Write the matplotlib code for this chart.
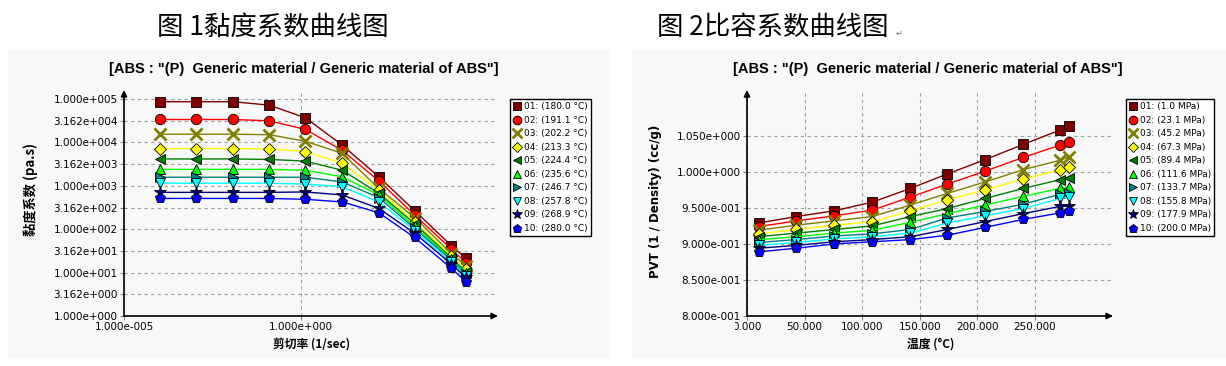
import numpy as np
import matplotlib
matplotlib.use('Agg')
import matplotlib.pyplot as plt
from matplotlib.lines import Line2D
from matplotlib.patches import Rectangle
from matplotlib.ticker import FixedLocator, NullLocator
from matplotlib.transforms import Bbox

# ---- data ----
shear_rate = [1.05e-4, 1.12e-3, 1.23e-2, 1.29e-1, 1.35, 14.8, 162, 1660, 18200, 46800]
visc_temps = ['180.0', '191.1', '202.2', '213.3', '224.4', '235.6', '246.7', '257.8', '268.9', '280.0']
viscosity = [
    [87100, 87100, 87100, 72400, 37200, 8710, 1620, 269, 41.7, 21.4],
    [33900, 33900, 33900, 31600, 20000, 6610, 1290, 214, 34.7, 17.0],
    [15500, 15500, 15500, 15100, 10700, 5620, 871, 186, 27.5, 14.5],
    [7240, 7240, 7240, 7080, 6170, 3310, 794, 148, 24.5, 12.0],
    [4170, 4170, 4170, 4070, 3720, 2290, 676, 135, 21.9, 10.5],
    [2400, 2400, 2400, 2400, 2290, 1620, 617, 117, 20.4, 10.0],
    [1580, 1580, 1580, 1580, 1580, 1230, 537, 105, 19.5, 9.33],
    [1150, 1150, 1150, 1150, 1100, 955, 427, 93.3, 17.8, 8.32],
    [708, 708, 708, 708, 724, 617, 302, 81.3, 15.8, 7.76],
    [513, 513, 513, 513, 490, 427, 240, 64.6, 12.6, 6.17],
]
visc_yticks = [1, 3.162, 10, 31.62, 100, 316.2, 1000, 3162, 10000, 31620, 100000]
visc_xticks = [1e-5, 1.0]

pvt_temp = [10, 43, 76, 109, 142, 174, 207, 240, 272, 280]
pvt_press = ['1.0', '23.1', '45.2', '67.3', '89.4', '111.6', '133.7', '155.8', '177.9', '200.0']
spec_vol = [
    [0.929, 0.938, 0.946, 0.958, 0.977, 0.997, 1.017, 1.038, 1.058, 1.063],
    [0.924, 0.932, 0.939, 0.947, 0.965, 0.983, 1.001, 1.020, 1.037, 1.041],
    [0.919, 0.926, 0.932, 0.938, 0.954, 0.970, 0.986, 1.003, 1.016, 1.021],
    [0.914, 0.920, 0.926, 0.931, 0.946, 0.961, 0.975, 0.990, 1.003, 1.006],
    [0.910, 0.915, 0.920, 0.925, 0.938, 0.949, 0.963, 0.977, 0.989, 0.992],
    [0.906, 0.910, 0.915, 0.919, 0.930, 0.942, 0.954, 0.966, 0.977, 0.979],
    [0.902, 0.906, 0.911, 0.914, 0.920, 0.936, 0.945, 0.955, 0.969, 0.970],
    [0.898, 0.902, 0.907, 0.910, 0.915, 0.929, 0.939, 0.949, 0.963, 0.965],
    [0.894, 0.898, 0.903, 0.906, 0.910, 0.920, 0.931, 0.942, 0.952, 0.953],
    [0.889, 0.894, 0.900, 0.903, 0.906, 0.912, 0.923, 0.934, 0.943, 0.945],
]
pvt_yticks = [0.80, 0.85, 0.90, 0.95, 1.00, 1.05]
pvt_xticks = [0, 50, 100, 150, 200, 250]

markers = ['s', 'o', 'x', 'D', '<', '^', '>', 'v', '*', 'p']
colors = ['#800000', '#ff0000', '#808000', '#ffff00', '#008000',
          '#00ff00', '#008080', '#00ffff', '#000080', '#0000ff']
msizes = [7.5, 7.5, 8.5, 6, 7.5, 7.5, 7.5, 7.5, 8.5, 7.5]

W, H = 1226, 366
fig = plt.figure(figsize=(W / 100, H / 100), dpi=100)
fig.patch.set_facecolor('white')

cjk = ['Noto Sans CJK SC', 'DejaVu Sans']

# grey panels behind each chart
for x0, x1 in [(8, 610), (632, 1226)]:
    fig.patches.append(Rectangle((x0 / W, 1 - 358 / H), (x1 - x0) / W, (358 - 50) / H,
                                 transform=fig.transFigure, facecolor='#f8f8f8',
                                 edgecolor='none', zorder=-5))


def sci(v):
    e = int(np.floor(np.log10(v) + 1e-9))
    m = v / 10 ** e
    return '%.3fe%s%03d' % (m, '+' if e >= 0 else '-', abs(e))


def style_axes(ax):
    ax.set_facecolor('none')
    for s in ax.spines.values():
        s.set_visible(False)
    ax.grid(True, color='#a0a0a0', linestyle=(0, (3, 3)), linewidth=0.8)
    ax.set_axisbelow(True)
    ax.tick_params(direction='out', length=3, width=0.8, color='#808080',
                   labelsize=7.5, pad=1.5)
    ax.annotate('', xy=(0, 1), xytext=(0, 0), xycoords='axes fraction',
                arrowprops=dict(arrowstyle='-|>', color='black', lw=1.2,
                                mutation_scale=9, shrinkA=0, shrinkB=0),
                annotation_clip=False)
    ax.annotate('', xy=(1, 0), xytext=(0, 0), xycoords='axes fraction',
                arrowprops=dict(arrowstyle='-|>', color='black', lw=1.2,
                                mutation_scale=9, shrinkA=0, shrinkB=0),
                annotation_clip=False)


def draw_series(ax, x, ys, labels, unit, legend_xy):
    handles = []
    for i, y in enumerate(ys):
        mec = colors[i] if markers[i] == 'x' else 'black'
        mew = 2.0 if markers[i] == 'x' else 0.6
        ax.plot(x, y, color=colors[i], lw=1.0, marker=markers[i], ms=msizes[i],
                mfc=colors[i], mec=mec, mew=mew, zorder=3 + i, clip_on=False)
        handles.append(Line2D([], [], ls='none', marker=markers[i], ms=msizes[i] * 0.85,
                              mfc=colors[i], mec=mec, mew=mew))
    texts = ['%02d: (%s %s)' % (i + 1, labels[i], unit) for i in range(len(ys))]
    leg = ax.legend(handles, texts, loc='upper left',
                    bbox_to_anchor=(legend_xy[0] / W, 1 - legend_xy[1] / H),
                    bbox_transform=fig.transFigure, borderaxespad=0,
                    fancybox=False, framealpha=1, edgecolor='black',
                    prop={'size': 6.5}, borderpad=0.35, labelspacing=0.5,
                    handlelength=0.9, handletextpad=0.3)
    leg.get_frame().set_linewidth(1.0)
    leg.set_zorder(20)


# ---------------- chart 1: viscosity ----------------
ax1 = fig.add_axes([124 / W, 1 - 316 / H, 374 / W, 226 / H])
style_axes(ax1)
ax1.set_xscale('log')
ax1.set_yscale('log')
ax1.set_xlim(1e-5, 10 ** 5.58)
ax1.set_ylim(1, 10 ** 5.21)
ax1.yaxis.set_major_locator(FixedLocator(visc_yticks))
ax1.yaxis.set_minor_locator(NullLocator())
ax1.set_yticklabels([sci(v) for v in visc_yticks])
ax1.xaxis.set_major_locator(FixedLocator(visc_xticks))
ax1.xaxis.set_minor_locator(NullLocator())
ax1.set_xticklabels([sci(v) for v in visc_xticks])
draw_series(ax1, shear_rate, viscosity, visc_temps, '°C', (510, 99))

fig.text(273 / W, 1 - 27 / H, '图 1黏度系数曲线图', family=cjk, fontsize=19,
         ha='center', va='center')
fig.text(304 / W, 1 - 69 / H, '[ABS : "(P)  Generic material / Generic material of ABS"]',
         family='Liberation Sans', weight='bold', fontsize=10.5, ha='center', va='center')
fig.text(31 / W, 1 - 190 / H, '黏度系数 (pa.s)', family=cjk, weight='bold', fontsize=9.5,
         rotation=90, ha='center', va='center')
fig.text(312 / W, 1 - 344 / H, '剪切率 (1/sec)', family=cjk, weight='bold', fontsize=8.5,
         ha='center', va='center')

# ---------------- chart 2: PVT ----------------
ax2 = fig.add_axes([747 / W, 1 - 316 / H, 366 / W, 226 / H])
style_axes(ax2)
ax2.set_xlim(0, 318)
ax2.set_ylim(0.8, 1.1135)
ax2.yaxis.set_major_locator(FixedLocator(pvt_yticks))
ax2.set_yticklabels([sci(v) for v in pvt_yticks])
ax2.xaxis.set_major_locator(FixedLocator(pvt_xticks))
ax2.set_xticklabels(['%.3f' % v for v in pvt_xticks])
draw_series(ax2, pvt_temp, spec_vol, pvt_press, 'MPa', (1126, 99))
# the first label is cut off on its left in the original
first = ax2.get_xticklabels()[0]
first.set_clip_on(True)
first.set_clip_box(Bbox([[735.3, 0], [W, H]]))

fig.text(773 / W, 1 - 27 / H, '图 2比容系数曲线图', family=cjk, fontsize=19,
         ha='center', va='center')
fig.text(899 / W, 1 - 33 / H, '↵', family=['DejaVu Sans'], fontsize=6, color='#707070',
         ha='center', va='center')
fig.text(928 / W, 1 - 69 / H, '[ABS : "(P)  Generic material / Generic material of ABS"]',
         family='Liberation Sans', weight='bold', fontsize=10.5, ha='center', va='center')
fig.text(655 / W, 1 - 201 / H, 'PVT (1 / Density) (cc/g)', family='DejaVu Sans',
         weight='bold', fontsize=8.5, rotation=90, ha='center', va='center')
fig.text(931 / W, 1 - 344 / H, '温度 (°C)', family=cjk, weight='bold', fontsize=8.5,
         ha='center', va='center')

fig.savefig('out.png', dpi=100)
